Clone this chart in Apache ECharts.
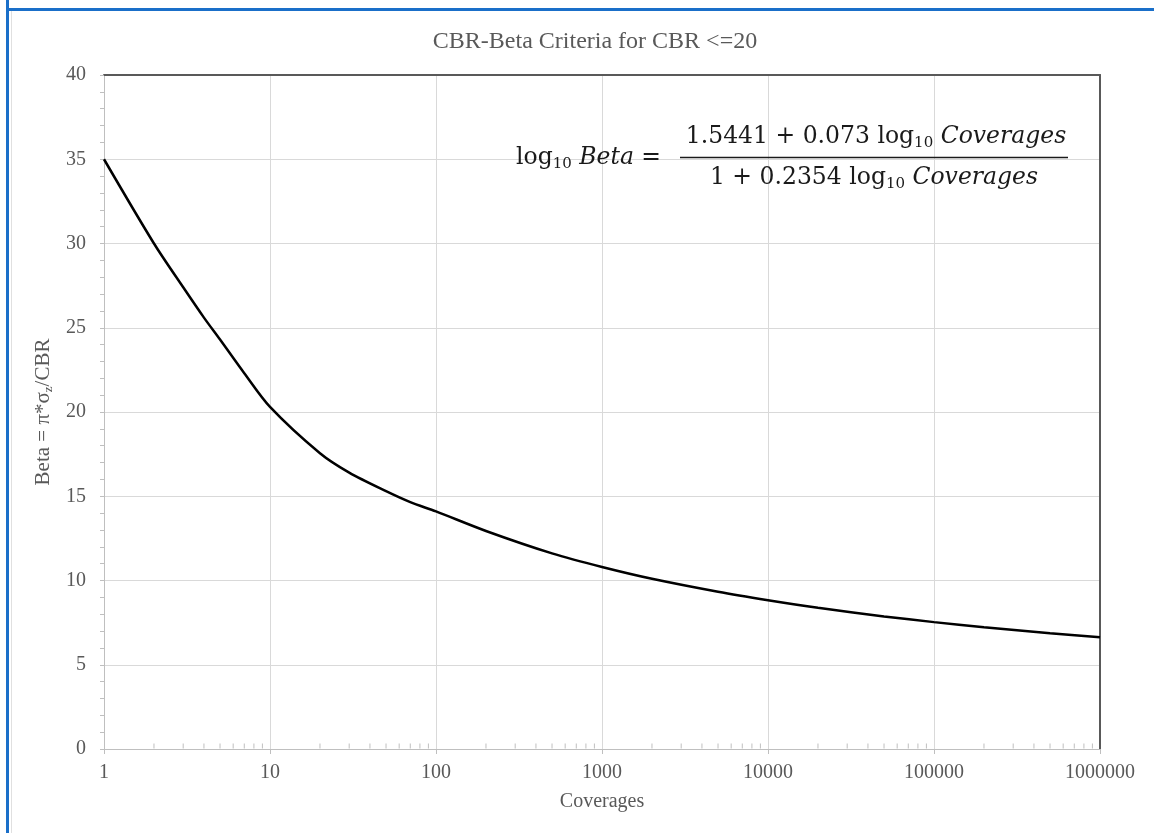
<!DOCTYPE html>
<html>
<head>
<meta charset="utf-8">
<script src="https://cdn.jsdelivr.net/npm/echarts@6/dist/echarts.min.js"></script>
<style>
html,body{margin:0;padding:0;background:#fff;}
#chart{width:1154px;height:833px;}
</style>
</head>
<body>
<div id="chart"></div>
<script>
// Coverages (x) and Beta (y)
const coverages = [1, 2, 3, 4, 5, 7, 10, 20, 30, 50, 70, 100, 200, 500, 1000, 2000, 5000, 10000, 20000, 50000, 100000, 200000, 500000, 1000000];
const betaValues = [35.0, 30.0, 27.4, 25.6, 24.3, 22.3, 20.3, 17.55, 16.4, 15.3, 14.65, 14.1, 12.94, 11.61, 10.8, 10.1, 9.33, 8.83, 8.38, 7.87, 7.53, 7.23, 6.87, 6.63];
const xTickLabels = ['1', '10', '100', '1000', '10000', '100000', '1000000'];
const yTickLabels = ['0', '5', '10', '15', '20', '25', '30', '35', '40'];
const xMinorTicks = [2,3,4,5,6,7,8,9, 20,30,40,50,60,70,80,90, 200,300,400,500,600,700,800,900,
  2000,3000,4000,5000,6000,7000,8000,9000, 20000,30000,40000,50000,60000,70000,80000,90000,
  200000,300000,400000,500000,600000,700000,800000,900000];

const serif = '"Liberation Serif", "DejaVu Serif", serif';
const mathFont = '"DejaVu Serif", "Liberation Serif", serif';
const labelColor = '#595959';
const eqColor = '#1a1a1a';
const chart = echarts.init(document.getElementById('chart'));

const eqRich = {
  n: { fontFamily: mathFont, fontSize: 23.5, fill: eqColor, lineHeight: 28 },
  i: { fontFamily: mathFont, fontSize: 23.5, fontStyle: 'italic', fill: eqColor, lineHeight: 28 },
  s: { fontFamily: mathFont, fontSize: 15, fill: eqColor, verticalAlign: 'bottom', lineHeight: 17 }
};

const option = {
  backgroundColor: '#ffffff',
  animation: false,
  title: {
    text: 'CBR-Beta Criteria for CBR <=20',
    left: 590, top: 25, textAlign: 'center',
    textStyle: { fontFamily: serif, fontSize: 24, fontWeight: 'normal', color: labelColor }
  },
  grid: { left: 104, right: 54, top: 75, bottom: 84, containLabel: false },
  xAxis: [{
    type: 'log', logBase: 10, min: 1, max: 1000000,
    name: 'Coverages', nameLocation: 'middle', nameGap: 43,
    nameTextStyle: { fontFamily: serif, fontSize: 20, color: labelColor },
    axisLine: { show: true, onZero: false, lineStyle: { color: '#bfbfbf', width: 1 } },
    axisTick: { show: true, length: 5, lineStyle: { color: '#bfbfbf' } },
    axisLabel: {
      fontFamily: serif, fontSize: 20, color: labelColor, margin: 14,
      formatter: v => xTickLabels[Math.round(Math.log10(v))]
    },
    splitLine: { show: true, lineStyle: { color: '#d9d9d9', width: 1 } }
  }, {
    type: 'log', logBase: 10, min: 1, max: 1000000, position: 'top',
    axisLine: { show: true, onZero: false, lineStyle: { color: '#595959', width: 2 } },
    axisTick: { show: false }, axisLabel: { show: false }, splitLine: { show: false }
  }],
  yAxis: [{
    type: 'value', min: 0, max: 40, interval: 5,
    name: '{n|Beta = π*σ}{s|z}{n|/CBR}', nameLocation: 'middle', nameGap: 46, nameRotate: 90,
    nameTextStyle: {
      rich: {
        n: { fontFamily: serif, fontSize: 21, color: labelColor },
        s: { fontFamily: serif, fontSize: 13, color: labelColor, padding: [10, 0, 0, 0] }
      }
    },
    axisLine: { show: true, onZero: false, lineStyle: { color: '#bfbfbf', width: 1 } },
    axisTick: { show: true, length: 4, lineStyle: { color: '#bfbfbf' } },
    minorTick: { show: true, splitNumber: 5, length: 4, lineStyle: { color: '#bfbfbf' } },
    axisLabel: {
      fontFamily: serif, fontSize: 20, color: labelColor, margin: 18,
      formatter: v => yTickLabels[Math.round(v / 5)]
    },
    splitLine: { show: true, lineStyle: { color: '#d9d9d9', width: 1 } }
  }, {
    type: 'value', min: 0, max: 40, interval: 5, position: 'right',
    axisLine: { show: true, onZero: false, lineStyle: { color: '#595959', width: 2 } },
    axisTick: { show: false }, axisLabel: { show: false }, splitLine: { show: false }
  }],
  series: [{
    type: 'scatter', xAxisIndex: 0, yAxisIndex: 0, silent: true, clip: false,
    symbol: 'rect', symbolSize: [1, 5], symbolOffset: [0, -3],
    itemStyle: { color: '#b0b0b0' },
    data: xMinorTicks.map(v => [v, 0]), z: 1
  }, {
    type: 'line', xAxisIndex: 0, yAxisIndex: 0, smooth: 0.3, showSymbol: false, silent: true,
    lineStyle: { color: '#000000', width: 2.5 },
    data: coverages.map((c, i) => [c, betaValues[i]]), z: 5
  }],
  graphic: [
    { type: 'rect', left: 6, top: 0, shape: { width: 3, height: 833 }, style: { fill: '#1a6fc9' }, z: 100 },
    { type: 'rect', left: 6, top: 8, shape: { width: 1148, height: 3 }, style: { fill: '#1a6fc9' }, z: 100 },
    { type: 'rect', left: 11, top: 11, shape: { width: 1, height: 822 }, style: { fill: '#e0e0e0' }, z: 100 },
    {
      type: 'text', x: 516, y: 158, z: 50,
      style: { text: '{n|log}{s|10}{n| }{i|Beta}{n| =}', verticalAlign: 'middle', rich: eqRich }
    },
    {
      type: 'text', x: 876, y: 137, z: 50,
      style: { text: '{n|1.5441 + 0.073 log}{s|10}{n| }{i|Coverages}', align: 'center', verticalAlign: 'middle', rich: eqRich }
    },
    { type: 'line', shape: { x1: 680, y1: 157.5, x2: 1068, y2: 157.5 }, style: { stroke: eqColor, lineWidth: 1.6 }, z: 50 },
    {
      type: 'text', x: 874, y: 178, z: 50,
      style: { text: '{n|1 + 0.2354 log}{s|10}{n| }{i|Coverages}', align: 'center', verticalAlign: 'middle', rich: eqRich }
    }
  ]
};
chart.setOption(option);
</script>
</body>
</html>
